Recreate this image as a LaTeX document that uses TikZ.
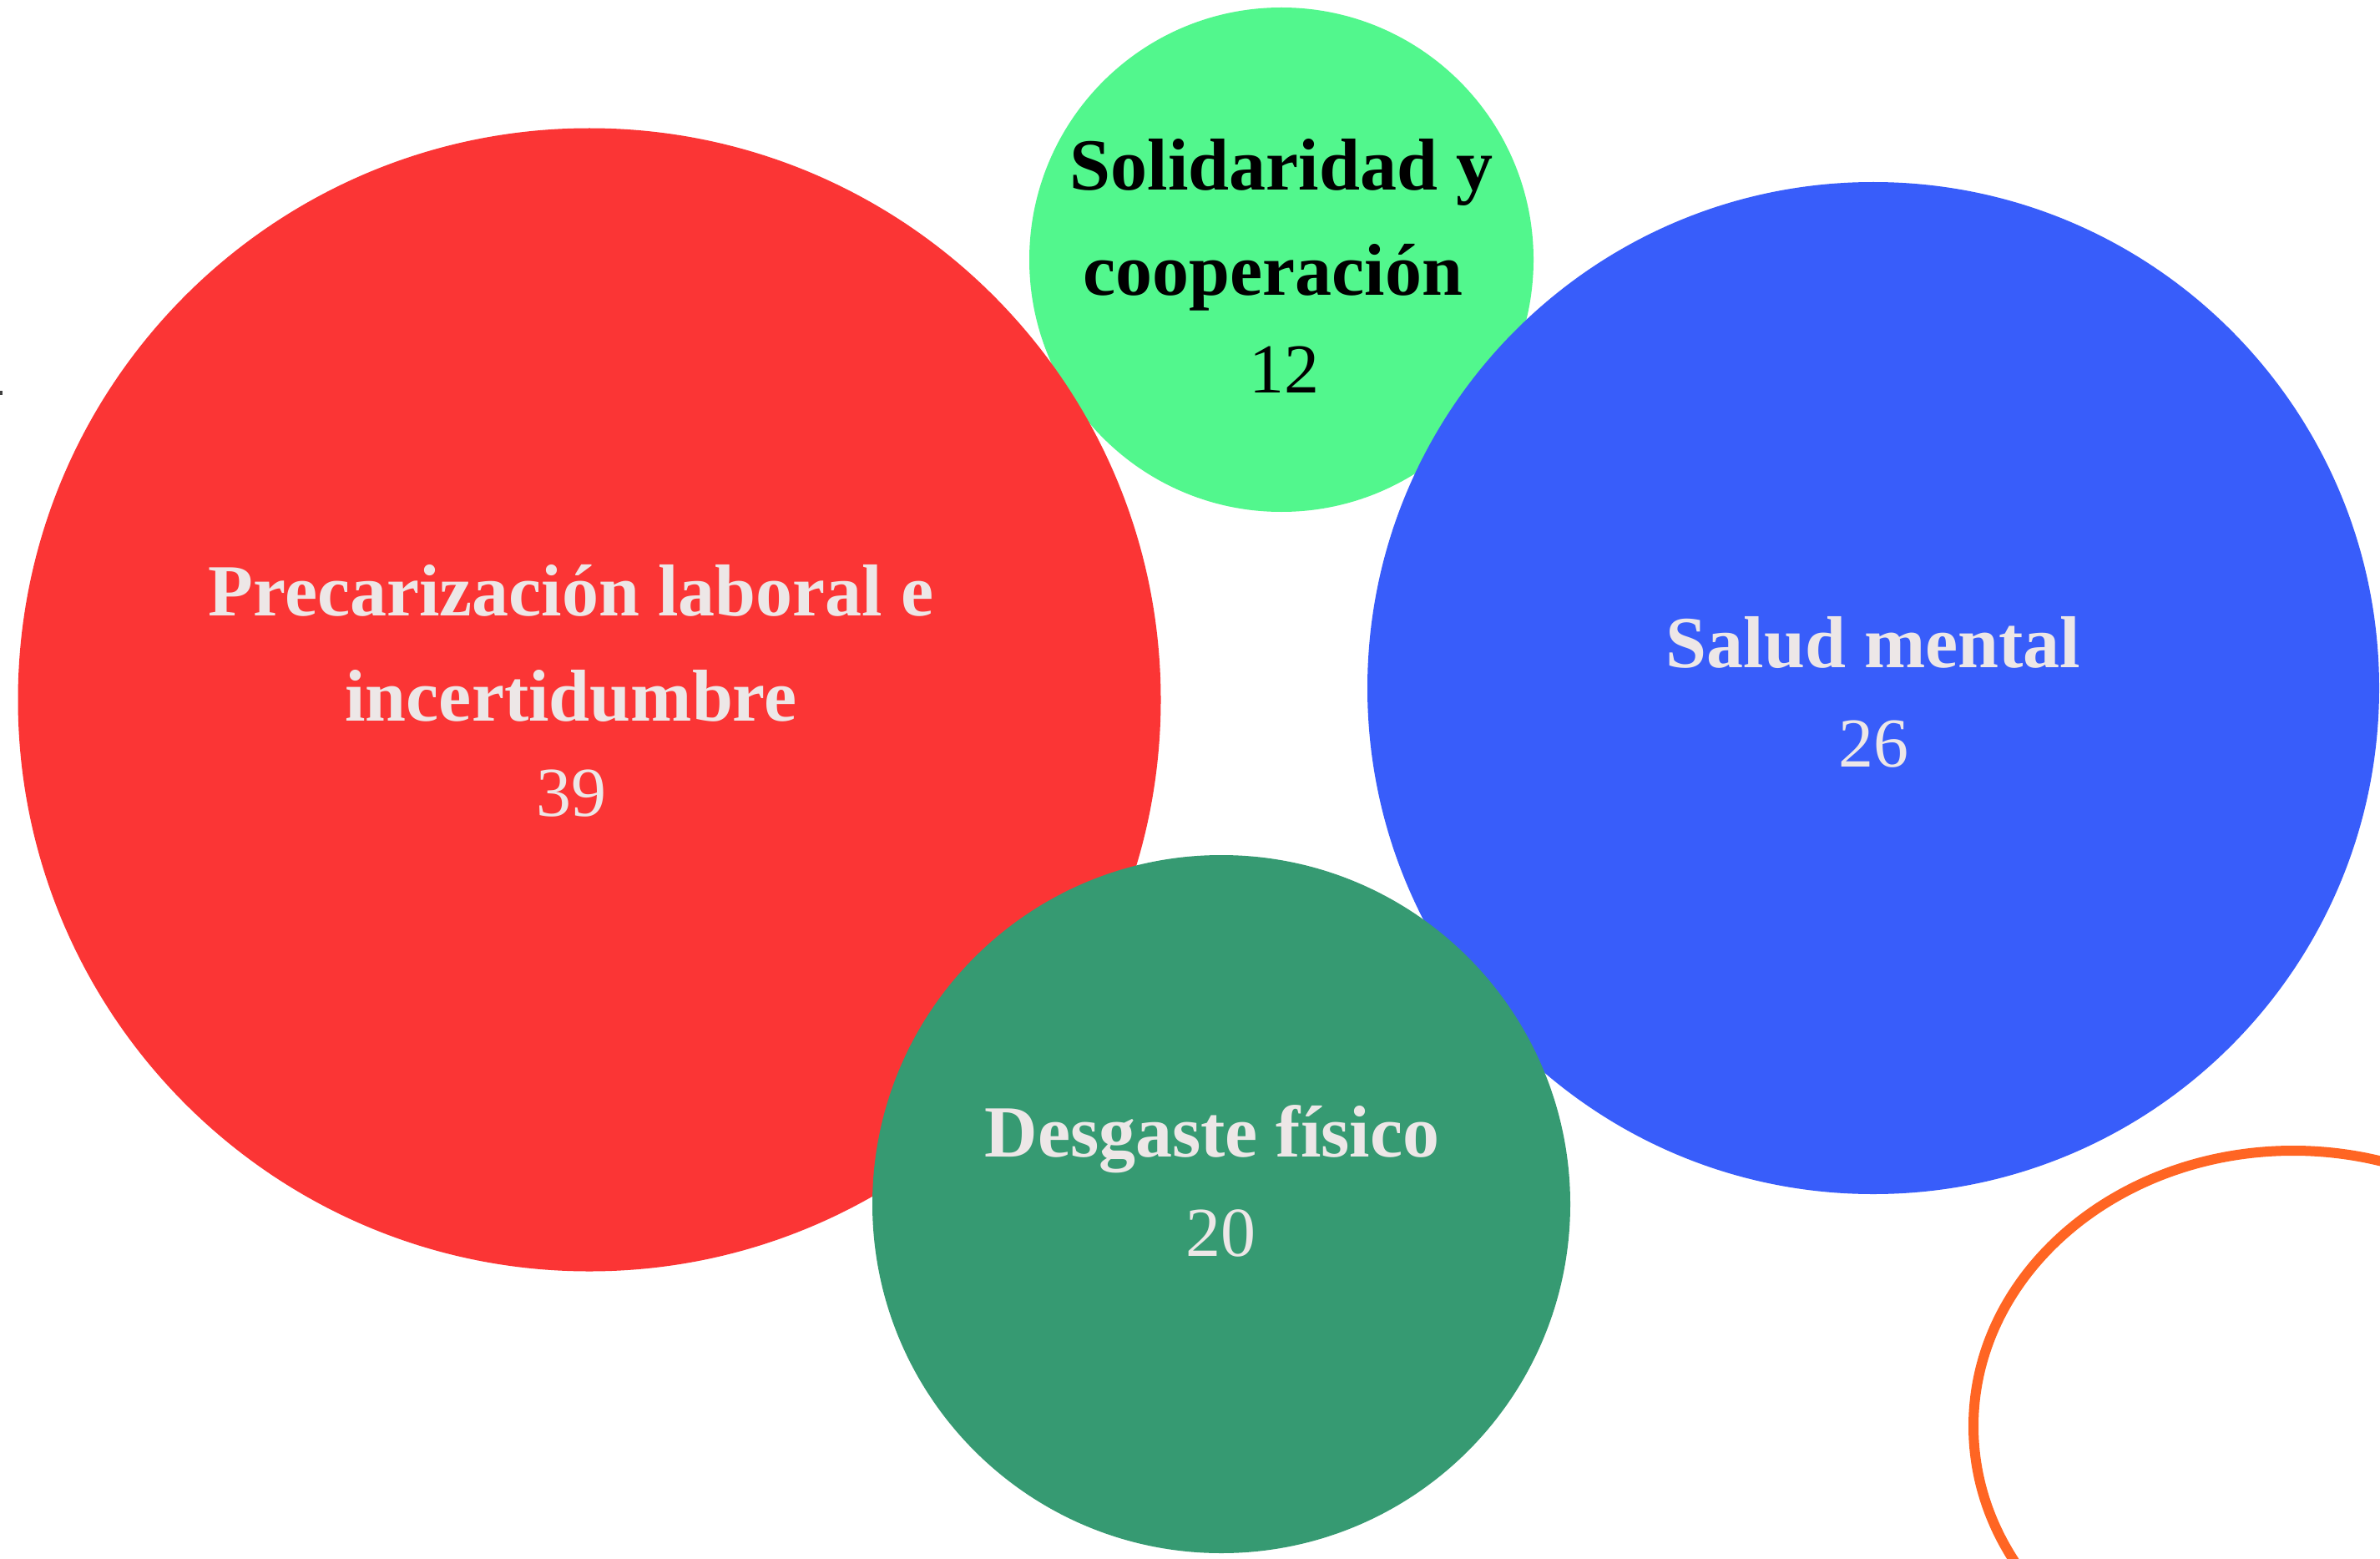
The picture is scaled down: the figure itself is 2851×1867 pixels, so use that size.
\documentclass[tikz,border=0pt]{standalone}
\usepackage{fontspec}
\setmainfont{Liberation Serif}
\usetikzlibrary{shapes.geometric}
\definecolor{cred}{HTML}{FB3535}
\definecolor{clgreen}{HTML}{52F78D}
\definecolor{cblue}{HTML}{385DFA}
\definecolor{cdgreen}{HTML}{369A72}
\definecolor{corange}{HTML}{FF6523}
\definecolor{ctext}{HTML}{EDE7E7}
\tikzset{
  bubble/.style={circle, inner sep=0pt, draw=none},
  ttl/.style={anchor=base, inner sep=0pt, font=\fontsize{88}{100}\selectfont\bfseries},
  num/.style={anchor=base, inner sep=0pt, font=\fontsize{84}{96}\selectfont},
}
\begin{document}
\begin{tikzpicture}[x=1pt, y=-1pt]
\useasboundingbox (0,0) rectangle (2851,1867);
\clip (0,0) rectangle (2851,1867);
\fill[white] (0,0) rectangle (2851,1867);
% bubbles
\node[bubble, fill=clgreen, minimum size=604] (sol) at (1535,311) {};
\node[bubble, fill=cred, minimum size=1369] (pre) at (706,838) {};
\node[bubble, fill=cblue, minimum size=1212] (sal) at (2244,824) {};
\node[bubble, fill=cdgreen, minimum size=836] (des) at (1463,1442) {};
\node[ellipse, draw=corange, line width=12pt, inner sep=0pt, minimum width=766, minimum height=660] (ora) at (2747,1708) {};
\fill[black!75] (0,468) rectangle (3,473);
% labels
\node[ttl, text=ctext] (pre1) at (684,737) {Precarización laboral e};
\node[ttl, text=ctext] (pre2) at (684,863) {incertidumbre};
\node[num, text=ctext] (pre3) at (684,977) {39};
\node[ttl, text=black] (sol1) at (1535,228) {Solidaridad y};
\node[ttl, text=black] (sol2) at (1525,354) {cooperación};
\node[num, text=black] (sol3) at (1538,470) {12};
\node[ttl, text=ctext] (sal1) at (2244,799) {Salud mental};
\node[num, text=ctext] (sal2) at (2244,918) {26};
\node[ttl, text=ctext] (des1) at (1452,1385) {Desgaste físico};
\node[num, text=ctext] (des2) at (1462,1504) {20};
\end{tikzpicture}
\end{document}
